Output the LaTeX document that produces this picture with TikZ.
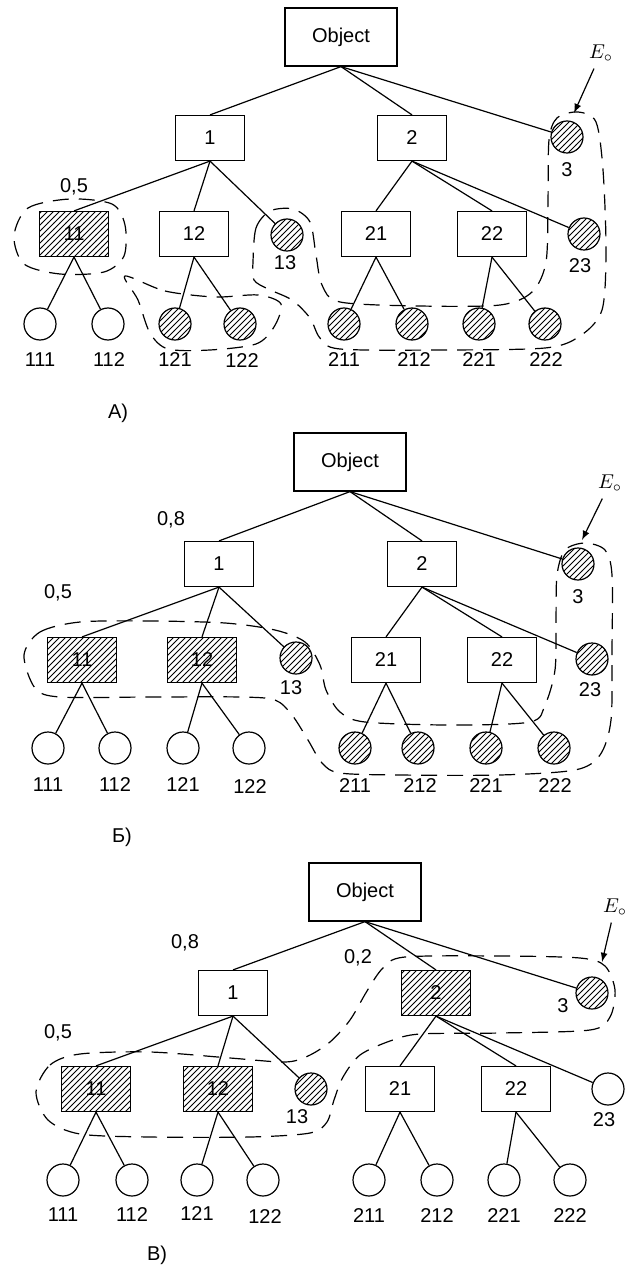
\documentclass[tikz,border=0pt]{standalone}
\usepackage{fontspec}
\setmainfont{Liberation Sans}
\usetikzlibrary{arrows,patterns}

\begin{document}
\begin{tikzpicture}[x=0.5pt,y=-0.5pt,line width=0.6pt,
  every node/.style={font=\fontsize{10}{12}\selectfont},
  obj/.style={shape=rectangle,draw,minimum width=56pt,minimum height=29pt,inner sep=0pt},
  box/.style={shape=rectangle,draw,minimum width=34.5pt,minimum height=22.5pt,inner sep=0pt},
  hbox/.style={box,pattern=north east lines},
  leaf/.style={shape=circle,draw,minimum size=16pt,inner sep=0pt},
  hleaf/.style={leaf,pattern=north east lines},
  group/.style={dash pattern=on 8pt off 5pt}]
\useasboundingbox (0,0) rectangle (627,1267);

% --- A) ---
\node(objA) at (341,37) [obj] {Object};
\node(A1) at (210,138) [box] {1};
\node(A2) at (412,138) [box] {2};
\node(A3) at (567,137) [hleaf] {};
\node(A11) at (74,234) [hbox] {11};
\node(A12) at (194,234) [box] {12};
\node(A13) at (287,235) [hleaf] {};
\node(A21) at (376,234) [box] {21};
\node(A22) at (492,234) [box] {22};
\node(A23) at (584,234) [hleaf] {};
\node(A111) at (40,324) [leaf] {};
\node(A112) at (108,324) [leaf] {};
\node(A121) at (175,324) [hleaf] {};
\node(A122) at (240,324) [hleaf] {};
\node(A211) at (344,324) [hleaf] {};
\node(A212) at (412,324) [hleaf] {};
\node(A221) at (479,324) [hleaf] {};
\node(A222) at (545,324) [hleaf] {};
\node(nA3) at (567,170) {3};
\node(nA13) at (285,263) {13};
\node(nA23) at (580,266) {23};
\node(nA111) at (40,360) {111};
\node(nA112) at (109,360) {112};
\node(nA121) at (175,360) {121};
\node(nA122) at (242,361) {122};
\node(nA211) at (344,360) {211};
\node(nA212) at (414,360) {212};
\node(nA221) at (479,360) {221};
\node(nA222) at (546,360) {222};
\node(wA) at (74,187) {0,5};
\node(eA) at (601,53) {$E_{\circ}$};
\coordinate (tA) at (574,113);
\node(pA) at (118,413) {А)};
\path
(objA.south) edge (A1.north)
(objA.south) edge (A2.north)
(objA.south) edge (A3)
(A1.south) edge (A11.north)
(A1.south) edge (A12.north)
(A1.south) edge (A13)
(A2.south) edge (A21.north)
(A2.south) edge (A22.north)
(A2.south) edge (A23)
(A11.south) edge (A111)
(A11.south) edge (A112)
(A12.south) edge (A121)
(A12.south) edge (A122)
(A21.south) edge (A211)
(A21.south) edge (A212)
(A22.south) edge (A221)
(A22.south) edge (A222);
\path [-latex] (eA) edge (tA);
\draw[group] plot[smooth cycle] coordinates {(14,236) (28,208) (70,199) (112,204) (125,225)
  (124,256) (104,272) (60,274) (24,264)};
\draw[group] plot[smooth cycle] coordinates {(125,276) (165,291) (215,297) (258,295) (281,304)
  (274,327) (256,344) (210,350) (168,349) (150,333) (138,300)};
\draw[group] plot[smooth cycle] coordinates {(253,262) (256,228) (270,211) (293,209) (310,222)
  (316,255) (322,285) (340,302) (420,306) (500,305) (532,292) (546,262) (548,200) (549,140)
  (557,118) (578,112) (596,122) (603,170) (606,250) (602,310) (580,336) (545,348) (440,350)
  (340,349) (320,338) (310,318) (292,300) (268,289) (254,280)};

% --- Б) ---
\node(objB) at (350,462) [obj] {Object};
\node(B1) at (219,564) [box] {1};
\node(B2) at (422,564) [box] {2};
\node(B3) at (578,564) [hleaf] {};
\node(B11) at (82,660) [hbox] {11};
\node(B12) at (202,660) [hbox] {12};
\node(B13) at (296,658) [hleaf] {};
\node(B21) at (386,660) [box] {21};
\node(B22) at (502,660) [box] {22};
\node(B23) at (592,659) [hleaf] {};
\node(B111) at (48,748) [leaf] {};
\node(B112) at (115,748) [leaf] {};
\node(B121) at (183,748) [leaf] {};
\node(B122) at (249,748) [leaf] {};
\node(B211) at (355,748) [hleaf] {};
\node(B212) at (418,748) [hleaf] {};
\node(B221) at (486,748) [hleaf] {};
\node(B222) at (554,748) [hleaf] {};
\node(nB3) at (578,597) {3};
\node(nB13) at (291,688) {13};
\node(nB23) at (590,690) {23};
\node(nB111) at (48,785) {111};
\node(nB112) at (115,785) {112};
\node(nB121) at (183,785) {121};
\node(nB122) at (250,787) {122};
\node(nB211) at (355,786) {211};
\node(nB212) at (420,786) {212};
\node(nB221) at (486,786) {221};
\node(nB222) at (555,786) {222};
\node(vB) at (171,520) {0,8};
\node(wB) at (58,593) {0,5};
\node(eB) at (610,483) {$E_{\circ}$};
\coordinate (tB) at (582,540);
\node(pB) at (122,837) {Б)};
\path
(objB.south) edge (B1.north)
(objB.south) edge (B2.north)
(objB.south) edge (B3)
(B1.south) edge (B11.north)
(B1.south) edge (B12.north)
(B1.south) edge (B13)
(B2.south) edge (B21.north)
(B2.south) edge (B22.north)
(B2.south) edge (B23)
(B11.south) edge (B111)
(B11.south) edge (B112)
(B12.south) edge (B121)
(B12.south) edge (B122)
(B21.south) edge (B211)
(B21.south) edge (B212)
(B22.south) edge (B221)
(B22.south) edge (B222);
\path [-latex] (eB) edge (tB);
\draw[group] plot[smooth cycle] coordinates {(24,655) (40,632) (80,622) (150,621) (225,623)
  (275,630) (305,642) (320,665) (326,690) (340,712) (365,722) (450,725) (530,722) (545,705)
  (555,670) (556,620) (557,575) (565,550) (585,543) (605,550) (612,575) (612,650) (611,720)
  (600,755) (575,770) (500,775) (400,775) (340,773) (322,763) (308,740) (292,715) (275,700)
  (240,697) (150,697) (60,697) (35,688)};

% --- В) ---
\node(objC) at (365,892) [obj] {Object};
\node(C1) at (233,993) [box] {1};
\node(C2) at (436,993) [hbox] {2};
\node(C3) at (592,993) [hleaf] {};
\node(C11) at (96,1089) [hbox] {11};
\node(C12) at (218,1089) [hbox] {12};
\node(C13) at (311,1089) [hleaf] {};
\node(C21) at (400,1089) [box] {21};
\node(C22) at (516,1089) [box] {22};
\node(C23) at (608,1089) [leaf] {};
\node(C111) at (63,1180) [leaf] {};
\node(C112) at (132,1180) [leaf] {};
\node(C121) at (197,1180) [leaf] {};
\node(C122) at (263,1180) [leaf] {};
\node(C211) at (369,1180) [leaf] {};
\node(C212) at (437,1180) [leaf] {};
\node(C221) at (504,1180) [leaf] {};
\node(C222) at (570,1180) [leaf] {};
\node(nC3) at (563,1006) {3};
\node(nC13) at (297,1117) {13};
\node(nC23) at (604,1120) {23};
\node(nC111) at (63,1215) {111};
\node(nC112) at (132,1215) {112};
\node(nC121) at (197,1214) {121};
\node(nC122) at (265,1217) {122};
\node(nC211) at (369,1216) {211};
\node(nC212) at (437,1216) {212};
\node(nC221) at (504,1216) {221};
\node(nC222) at (570,1216) {222};
\node(vC) at (185,943) {0,8};
\node(uC) at (358,958) {0,2};
\node(wC) at (58,1033) {0,5};
\node(eC) at (615,907) {$E_{\circ}$};
\coordinate (tC) at (602,962);
\node(pC) at (157,1255) {В)};
\path
(objC.south) edge (C1.north)
(objC.south) edge (C2.north)
(objC.south) edge (C3)
(C1.south) edge (C11.north)
(C1.south) edge (C12.north)
(C1.south) edge (C13)
(C2.south) edge (C21.north)
(C2.south) edge (C22.north)
(C2.south) edge (C23)
(C11.south) edge (C111)
(C11.south) edge (C112)
(C12.south) edge (C121)
(C12.south) edge (C122)
(C21.south) edge (C211)
(C21.south) edge (C212)
(C22.south) edge (C221)
(C22.south) edge (C222);
\path [-latex] (eC) edge (tC);
\draw[group] plot[smooth cycle] coordinates {(36,1092) (50,1065) (80,1054) (150,1052)
  (230,1058) (285,1062) (308,1056) (330,1042) (350,1020) (367,991) (383,968) (405,957)
  (500,956) (580,958) (605,966) (615,990) (610,1017) (590,1030) (500,1033) (420,1034)
  (390,1041) (360,1055) (343,1077) (334,1100) (327,1122) (310,1133) (250,1137) (150,1137)
  (80,1134) (48,1120)};
\end{tikzpicture}
\end{document}
